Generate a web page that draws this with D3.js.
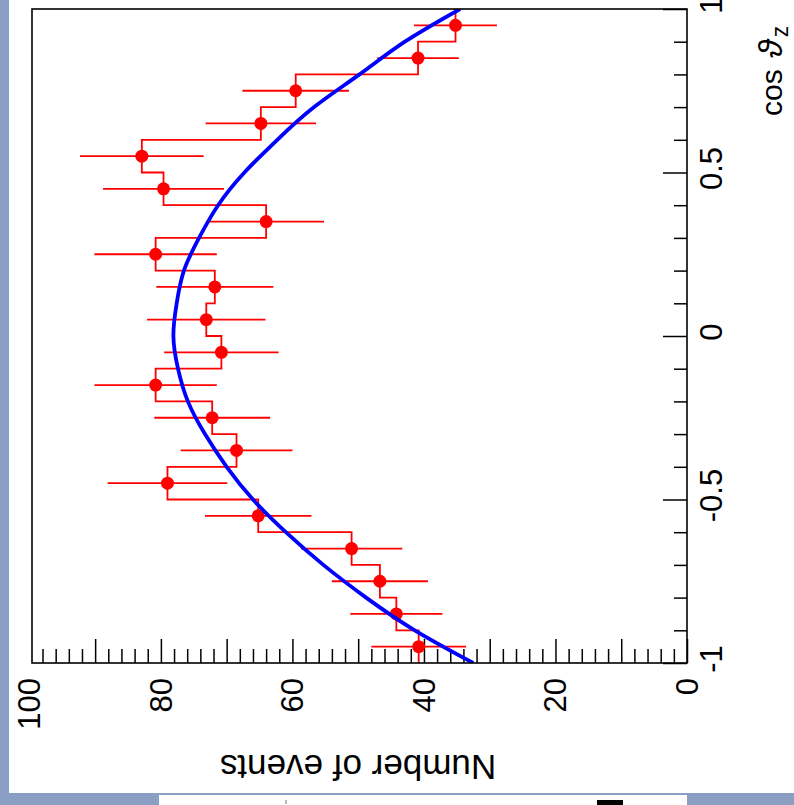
<!DOCTYPE html>
<html><head><meta charset="utf-8">
<script src="https://cdn.jsdelivr.net/npm/d3@7"></script>
<style>html,body{margin:0;padding:0;overflow:hidden;background:#8b9ec3}</style>
</head><body><svg id="c" width="794" height="805"></svg>
<script>
// ---- data ----
const binCenters = [-0.95,-0.85,-0.75,-0.65,-0.55,-0.45,-0.35,-0.25,-0.15,-0.05,0.05,0.15,0.25,0.35,0.45,0.55,0.65,0.75,0.85,0.95];
const binWidth = 0.1;
const counts = [40.8,44.2,46.7,51.0,65.2,79.0,68.5,72.2,80.8,70.8,73.1,71.8,80.8,64.0,79.6,82.9,64.8,59.5,40.9,35.2];
const errors = [7.2,7.0,7.3,7.7,8.1,9.1,8.5,8.8,9.3,8.7,9.0,8.9,9.3,8.8,9.2,9.4,8.4,8.1,6.2,6.3];
const fitCos = [-1.0,-0.9,-0.8,-0.7,-0.6,-0.5,-0.4,-0.3,-0.2,-0.1,0.0,0.1,0.2,0.3,0.4,0.5,0.6,0.7,0.8,0.9,1.0];
const fitN   = [32.5,41.4,48.8,55.3,61.0,66.0,70.0,73.3,75.9,77.4,78.1,77.6,76.5,74.2,71.3,67.3,62.3,56.7,49.8,42.9,34.5];
const countTickLabels = [0,20,40,60,80,100];
const countMajorTicks = [0,10,20,30,40,50,60,70,80,90];
const countMinorTicks = [2,4,6,8,12,14,16,18,22,24,26,28,32,34,36,38,42,44,46,48,52,54,56,58,62,64,66,68,72,74,76,78,82,84,86,88,92,94,96,98];
const cosTickLabels = ["-1","-0.5","0","0.5","1"];
const cosMajorTicks = [-1,-0.5,0,0.5,1];
const cosMinorTicks = [-0.9,-0.8,-0.7,-0.6,-0.4,-0.3,-0.2,-0.1,0.1,0.2,0.3,0.4,0.6,0.7,0.8,0.9];
const countTitle = "Number of events";

// ---- layout ----
const svg = d3.select('#c');
const F = {left:32, right:687, top:9, bottom:663};
const FONT = "'Liberation Sans', Arial, Helvetica, 'DejaVu Sans', sans-serif";

svg.append('rect').attr('width',794).attr('height',805).attr('fill','#8b9ec3');
svg.append('rect').attr('x',9).attr('y',0).attr('width',785).attr('height',793).attr('fill','#fff');
svg.append('rect').attr('x',159).attr('y',795).attr('width',528).attr('height',10).attr('fill','#fff');
svg.append('rect').attr('x',597).attr('y',800).attr('width',26).attr('height',5).attr('fill','#000');
svg.append('rect').attr('x',285).attr('y',800).attr('width',2).attr('height',4).attr('fill','#bbb');

// rotated chart: counts run horizontally (0 at right), cos runs vertically (1 at top)
const nScale = d3.scaleLinear().domain([0, 99.6]).range([F.right, F.left]);
const cScale = d3.scaleLinear().domain([-1, 1]).range([F.bottom, F.top]);

svg.append('clipPath').attr('id','clip').append('rect')
  .attr('x',F.left).attr('y',F.top).attr('width',F.right-F.left).attr('height',F.bottom-F.top);

// axes ticks
function styleAxis(g){ g.select('.domain').remove(); g.selectAll('line').attr('stroke','#000').attr('stroke-width',1.5); g.selectAll('text').remove(); }
svg.append('g').attr('transform',`translate(0,${F.bottom})`)
  .call(d3.axisTop(nScale).tickValues(countMajorTicks).tickSize(24).tickSizeOuter(0)).call(styleAxis);
svg.append('g').attr('transform',`translate(0,${F.bottom})`)
  .call(d3.axisTop(nScale).tickValues(countMinorTicks).tickSize(14).tickSizeOuter(0)).call(styleAxis);
svg.append('g').attr('transform',`translate(${F.right},0)`)
  .call(d3.axisLeft(cScale).tickValues(cosMajorTicks).tickSize(24).tickSizeOuter(0)).call(styleAxis);
svg.append('g').attr('transform',`translate(${F.right},0)`)
  .call(d3.axisLeft(cScale).tickValues(cosMinorTicks).tickSize(13).tickSizeOuter(0)).call(styleAxis);

const plot = svg.append('g').attr('clip-path','url(#clip)');

// step histogram
const p = d3.path();
counts.forEach((n,i)=>{
  const lo = binCenters[i]-binWidth/2, hi = binCenters[i]+binWidth/2;
  if(i===0) p.moveTo(nScale(n), cScale(lo)); else p.lineTo(nScale(n), cScale(lo));
  p.lineTo(nScale(n), cScale(hi));
});
plot.append('path').attr('d',p.toString()).attr('fill','none').attr('stroke','#ff0000').attr('stroke-width',1.8);

// error bars
plot.selectAll('line.err').data(counts).join('line').attr('class','err')
  .attr('x1',(d,i)=>nScale(d-errors[i])).attr('x2',(d,i)=>nScale(d+errors[i]))
  .attr('y1',(d,i)=>cScale(binCenters[i])).attr('y2',(d,i)=>cScale(binCenters[i]))
  .attr('stroke','#ff0000').attr('stroke-width',1.8);

// markers
plot.selectAll('circle.pt').data(counts).join('circle').attr('class','pt')
  .attr('cx',d=>nScale(d)).attr('cy',(d,i)=>cScale(binCenters[i])).attr('r',6.5).attr('fill','#ff0000');

// fit curve
const fitData = fitCos.map((c,i)=>({c, n:fitN[i]}));
plot.append('path').datum(fitData)
  .attr('d', d3.line().x(d=>nScale(d.n)).y(d=>cScale(d.c)).curve(d3.curveNatural))
  .attr('fill','none').attr('stroke','#0000ff').attr('stroke-width',3.8);

// frame
svg.append('rect').attr('x',F.left).attr('y',F.top).attr('width',F.right-F.left).attr('height',F.bottom-F.top)
  .attr('fill','none').attr('stroke','#000').attr('stroke-width',1.6);

// count tick labels
svg.selectAll('text.nl').data(countTickLabels).join('text').attr('class','nl')
  .attr('transform',d=>`translate(${nScale(d)+11},678) rotate(-90)`)
  .attr('text-anchor','end').attr('font-family',FONT).attr('font-size',31).attr('fill','#000')
  .text(d=>d);

// cos tick labels
svg.selectAll('text.cl').data(cosTickLabels).join('text').attr('class','cl')
  .attr('transform',d=>`translate(722,${cScale(+d)-4}) rotate(-90)`)
  .attr('text-anchor','middle').attr('font-family',FONT).attr('font-size',31).attr('fill','#000')
  .text(d=>d);

// titles
svg.append('text').attr('transform',`translate(358,755) rotate(180)`)
  .attr('text-anchor','middle').attr('font-family',FONT).attr('font-size',35).attr('fill','#000')
  .text(countTitle);
const ct = svg.append('text').attr('transform',`translate(782,116) rotate(-90)`)
  .attr('text-anchor','start').attr('font-family',FONT).attr('font-size',30).attr('fill','#000');
ct.append('tspan').text('cos ');
ct.append('tspan').attr('dx',3).attr('font-size',34).attr('font-style','italic').text('\u03D1');
ct.append('tspan').attr('dx',2).attr('font-size',23).attr('dy',6).text('z');
</script></body></html>
